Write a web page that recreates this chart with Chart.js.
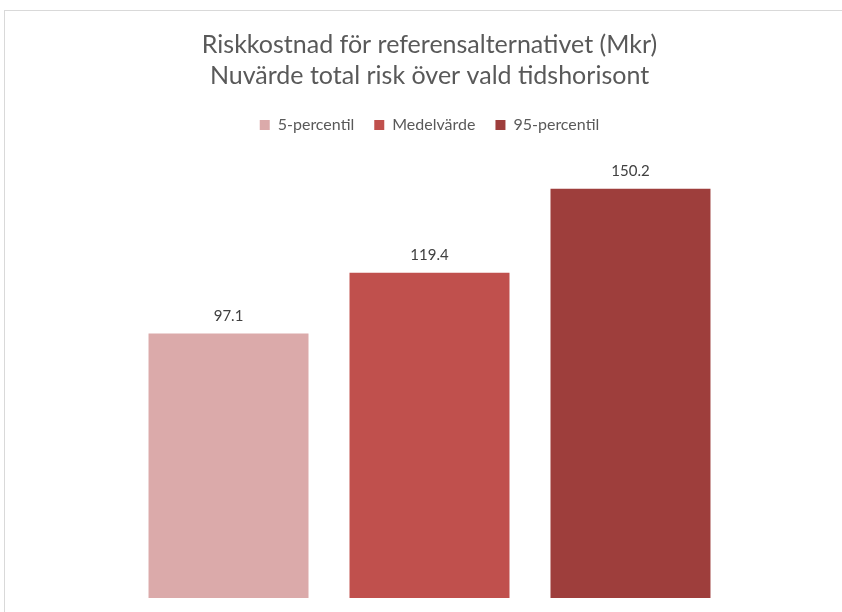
<!DOCTYPE html>
<html>
<head>
<meta charset="utf-8">
<script src="https://cdn.jsdelivr.net/npm/chart.js@4"></script>
<style>
  html, body { margin: 0; padding: 0; width: 842px; height: 612px; overflow: hidden; background: #fff; }
  #frame { position: absolute; left: 4px; top: 10px; width: 852px; height: 620px; border: 1px solid #d9d9d9; background: #fff; }
  #frame canvas { display: block; }
</style>
</head>
<body>
<div id="frame"><canvas id="c" width="852" height="620"></canvas></div>
<script>
const titleLines = ["Riskkostnad för referensalternativet (Mkr)", "Nuvärde total risk över vald tidshorisont"];
const categories = [""];
const seriesNames = ["5-percentil", "Medelvärde", "95-percentil"];
const seriesValues = [97.1, 119.4, 150.2];
const seriesColors = ["#DBAAAA", "#C0504D", "#9E3E3C"];
const FONT = "Lato, 'Open Sans', sans-serif";

const labelPlugin = {
  id: 'valueLabels',
  afterDatasetsDraw(chart) {
    const ctx = chart.ctx;
    ctx.save();
    ctx.font = "15px " + FONT;
    ctx.fillStyle = "#404040";
    ctx.textAlign = "center";
    ctx.textBaseline = "middle";
    chart.data.datasets.forEach((ds, i) => {
      chart.getDatasetMeta(i).data.forEach((bar, j) => {
        ctx.fillText(ds.data[j].toFixed(1), bar.x, bar.y - 17.5);
      });
    });
    ctx.restore();
  }
};

const legendSpacer = {
  id: 'legendSpacer',
  beforeInit(chart) {
    const origFit = chart.legend.fit;
    chart.legend.fit = function () {
      origFit.bind(chart.legend)();
      this.height += 19;
    };
  }
};

new Chart(document.getElementById('c'), {
  type: 'bar',
  data: {
    labels: categories,
    datasets: seriesNames.map((n, i) => ({
      label: n,
      data: [seriesValues[i]],
      backgroundColor: seriesColors[i],
      borderWidth: 0
    }))
  },
  options: {
    responsive: false,
    animation: false,
    devicePixelRatio: 1,
    layout: { padding: { left: 0, right: 3, top: 0, bottom: 33 } },
    datasets: { bar: { categoryPercentage: 0.7102, barPercentage: 0.796 } },
    scales: {
      x: { display: false },
      y: { display: false, min: 0, max: 160 }
    },
    plugins: {
      title: {
        display: true,
        text: titleLines,
        color: "#595959",
        font: { family: FONT, size: 25, weight: 'normal', lineHeight: '31px' },
        padding: { top: 18, bottom: 6 }
      },
      legend: {
        display: true,
        position: 'top',
        labels: {
          color: "#595959",
          font: { family: FONT, size: 16 },
          boxWidth: 10,
          boxHeight: 10,
          padding: 20
        }
      },
      tooltip: { enabled: false }
    }
  },
  plugins: [labelPlugin, legendSpacer]
});
</script>
</body>
</html>
